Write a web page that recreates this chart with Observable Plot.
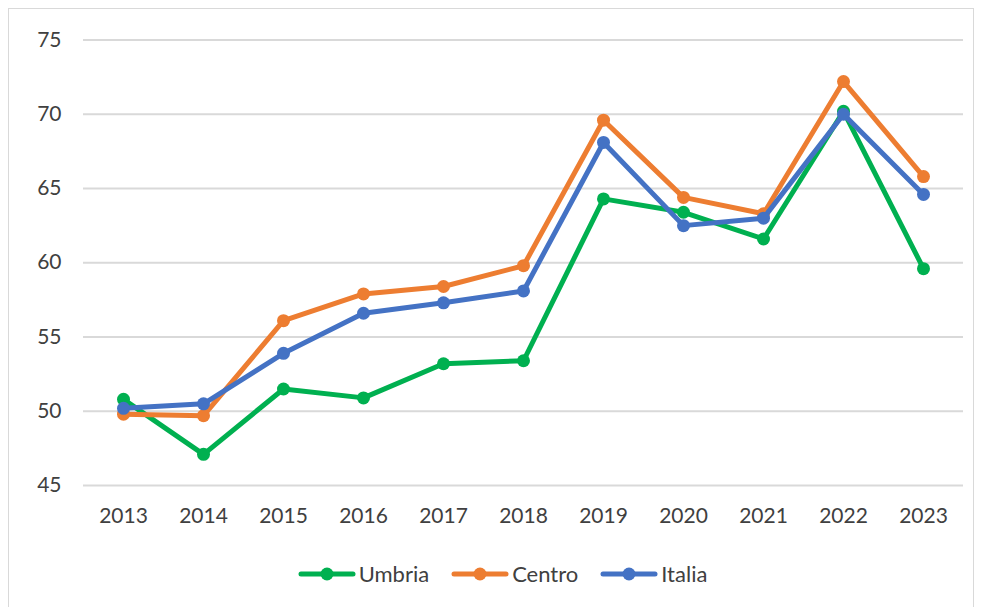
<!DOCTYPE html>
<html>
<head>
<meta charset="utf-8">
<script src="https://cdn.jsdelivr.net/npm/d3@7"></script>
<script src="https://cdn.jsdelivr.net/npm/@observablehq/plot@0.6"></script>
<style>
  html, body { margin: 0; padding: 0; background: #fff; }
  body { width: 981px; height: 607px; position: relative; overflow: hidden; font-family: Lato, "Open Sans", sans-serif; }
  #frame { position: absolute; left: 8px; top: 8px; width: 966px; height: 610px; border: 1.5px solid #d9d9d9; box-sizing: border-box; pointer-events: none; }
  #chart { position: absolute; left: 0; top: 0; }
  #legend { position: absolute; left: 0; top: 560px; width: 981px; padding-left: 24px; box-sizing: border-box; display: flex; justify-content: center; font-size: 22px; color: #404040; }
  .item { display: flex; align-items: center; margin: 0 11px; }
  .item svg { margin-right: 3px; }
</style>
</head>
<body>
<div id="frame"></div>
<div id="chart"></div>
<div id="legend"></div>
<script>
const years = ["2013","2014","2015","2016","2017","2018","2019","2020","2021","2022","2023"];
const umbria = [50.8, 47.1, 51.5, 50.9, 53.2, 53.4, 64.3, 63.4, 61.6, 70.2, 59.6];
const centro = [49.8, 49.7, 56.1, 57.9, 58.4, 59.8, 69.6, 64.4, 63.3, 72.2, 65.8];
const italia = [50.2, 50.5, 53.9, 56.6, 57.3, 58.1, 68.1, 62.5, 63.0, 70.0, 64.6];
const seriesNames = ["Umbria", "Centro", "Italia"];
const seriesColors = ["#00b050", "#ed7d31", "#4472c4"];
const yTicks = [45, 50, 55, 60, 65, 70, 75];

const seriesValues = [umbria, centro, italia];
const marks = [Plot.ruleY(yTicks, {stroke: "#d9d9d9", strokeWidth: 2})];
seriesValues.forEach((vals, i) => {
  const data = years.map((y, j) => ({year: y, value: vals[j]}));
  marks.push(Plot.line(data, {x: "year", y: "value", stroke: seriesColors[i], strokeWidth: 5, strokeLinejoin: "round", strokeLinecap: "round"}));
  marks.push(Plot.dot(data, {x: "year", y: "value", fill: seriesColors[i], r: 6.5}));
});
marks.push(Plot.axisY(yTicks, {tickSize: 0, tickPadding: 22, fontSize: 21, fill: "#404040", tickFormat: d => String(d)}));
marks.push(Plot.axisX({tickSize: 0, tickPadding: 23, fontSize: 21, fill: "#404040"}));

const chart = Plot.plot({
  width: 981,
  height: 545,
  marginLeft: 83,
  marginRight: 18,
  marginTop: 39.5,
  marginBottom: 60,
  style: {fontFamily: "Lato, 'Open Sans', sans-serif", background: "transparent", color: "#404040"},
  x: {type: "point", domain: years, padding: 0.5, label: null},
  y: {domain: [45, 75], label: null},
  marks
});
document.getElementById("chart").appendChild(chart);

const legend = document.getElementById("legend");
seriesNames.forEach((name, i) => {
  const item = document.createElement("div");
  item.className = "item";
  item.innerHTML = `<svg width="58" height="14"><line x1="3" y1="7" x2="55" y2="7" stroke="${seriesColors[i]}" stroke-width="5" stroke-linecap="round"/><circle cx="29" cy="7" r="6.5" fill="${seriesColors[i]}"/></svg><span>${name}</span>`;
  legend.appendChild(item);
});
</script>
</body>
</html>
